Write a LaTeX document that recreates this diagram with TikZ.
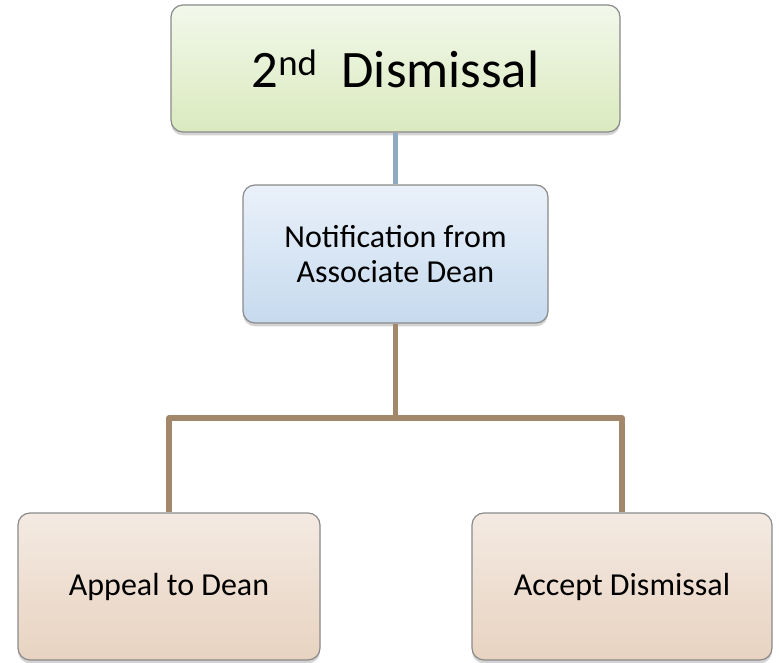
\documentclass[tikz,border=0pt]{standalone}
\usepackage{fontspec}
\setmainfont{Carlito}
\usepackage{xcolor}
\usetikzlibrary{shadows}

\definecolor{greentop}{HTML}{F2F8EA}
\definecolor{greenbot}{HTML}{DAEABF}
\definecolor{bluetop}{HTML}{EAF1FA}
\definecolor{bluebot}{HTML}{C6DAEE}
\definecolor{sandtop}{HTML}{F4EAE2}
\definecolor{sandbot}{HTML}{E8D3C1}
\definecolor{boxline}{HTML}{8A8A8A}
\definecolor{bluelink}{HTML}{8FABC2}
\definecolor{brownlink}{HTML}{A3876A}

\tikzset{
	box/.style = {draw = boxline, line width = 0.9pt, rounded corners = 9pt,
		align = center, inner sep = 0pt,
		drop shadow = {opacity = 0.35, shadow xshift = 0pt, shadow yshift = -2.5pt}},
	greenbox/.style = {box, top color = greentop, bottom color = greenbot},
	bluebox/.style = {box, top color = bluetop, bottom color = bluebot},
	sandbox/.style = {box, top color = sandtop, bottom color = sandbot},
	link/.style = {line width = 3.8pt, line join = round}
}

\begin{document}
\begin{tikzpicture}[x = 0.75pt, y = -0.75pt]
	\useasboundingbox (0,0) rectangle (779,663);
	
	% boxes
	\node[greenbox, minimum width = 336.75pt, minimum height = 95.25pt,
		font = \fontsize{39.5}{46}\selectfont] (dismissal) at (395.5,68.5)
		{2\textsuperscript{nd}\ \ Dismissal};
	\node[bluebox, minimum width = 228.75pt, minimum height = 103.5pt,
		font = \fontsize{24}{26}\selectfont] (notice) at (395.5,254)
		{Notification from\\Associate Dean};
	\node[sandbox, minimum width = 226.5pt, minimum height = 110.25pt,
		font = \fontsize{24}{26}\selectfont] (appeal) at (169,586.5)
		{Appeal to Dean};
	\node[sandbox, minimum width = 225pt, minimum height = 110.25pt,
		font = \fontsize{24}{26}\selectfont] (accept) at (622,586.5)
		{Accept Dismissal};
	
	% links
	\coordinate (split) at (395.5,418);
	\draw[link, bluelink] (dismissal.south) -- (notice.north);
	\draw[link, brownlink] (notice.south) -- (split);
	\draw[link, brownlink] (appeal.north) |- (split) -| (accept.north);
	
\end{tikzpicture}
\end{document}
